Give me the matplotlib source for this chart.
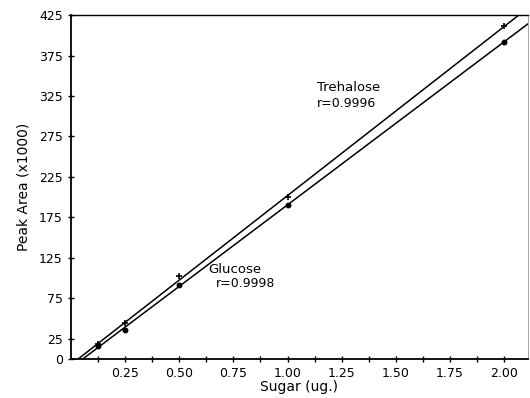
import numpy as np
import matplotlib
matplotlib.use("Agg")
import matplotlib.pyplot as plt
from matplotlib.ticker import FixedLocator

sugar = [0.125, 0.25, 0.5, 1.0, 2.0]
trehalose = [18, 44, 102, 200, 411]
glucose = [16, 36, 92, 190, 392]
xticks = [0.25, 0.50, 0.75, 1.00, 1.25, 1.50, 1.75, 2.00]
yticks = [0, 25, 75, 125, 175, 225, 275, 325, 375, 425]

fig = plt.figure(figsize=(5.3, 3.98), dpi=100)
ax = fig.add_axes([0.134, 0.098, 0.862, 0.864])
ax.set_xlim(0, 2.11)
ax.set_ylim(0, 425)

xfit = np.linspace(0, 2.2, 50)
for ys, mk, ms in [(trehalose, '+', 4), (glucose, 'o', 3)]:
    k, b = np.polyfit(sugar, ys, 1)
    yl = k * xfit + b
    ax.plot(xfit, yl, color='black', lw=1.1, clip_on=True)
    ax.plot(sugar, ys, linestyle='none', marker=mk, ms=ms, color='black', mew=1.2)

ax.set_xticks(xticks)
ax.set_xticklabels([f"{v:.2f}" for v in xticks])
ax.xaxis.set_minor_locator(FixedLocator([0.125 + 0.25 * i for i in range(8)]))
ax.set_yticks(yticks)
ax.set_yticklabels([str(v) for v in yticks])
ax.tick_params(axis='both', which='both', direction='inout', length=5, width=1, labelsize=9)
ax.tick_params(axis='x', pad=3)

for s in ['left', 'bottom']:
    ax.spines[s].set_linewidth(1.3)
ax.spines['top'].set_linewidth(1.0)
ax.spines['right'].set_linewidth(0.6)
ax.spines['right'].set_color('#999999')

ax.text(1.134, 335, "Trehalose", fontsize=9.5, va='center', ha='left')
ax.text(1.134, 316, "r=0.9996", fontsize=9, va='center', ha='left')
ax.text(0.634, 110, "Glucose", fontsize=9.5, va='center', ha='left')
ax.text(0.67, 93, "r=0.9998", fontsize=9, va='center', ha='left')

ax.set_xlabel("Sugar (ug.)", fontsize=10, labelpad=0)
ax.set_ylabel("Peak Area (x1000)", fontsize=10, labelpad=6)

fig.savefig("out.png", dpi=100)
